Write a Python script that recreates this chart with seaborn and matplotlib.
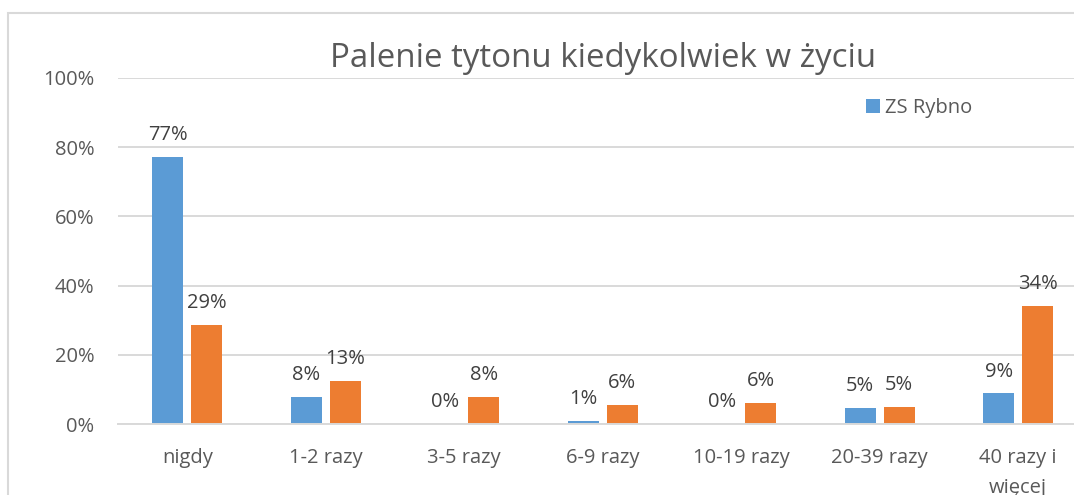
import matplotlib
matplotlib.use("Agg")
import matplotlib.pyplot as plt
import seaborn as sns
import pandas as pd
from matplotlib.patches import Rectangle, Patch

# Chart data
categories = ["nigdy", "1-2 razy", "3-5 razy", "6-9 razy", "10-19 razy",
              "20-39 razy", "40 razy i\nwięcej"]
zs_rybno = [77.1, 7.9, 0.0, 0.9, 0.0, 4.8, 8.9]
ogolem = [28.6, 12.6, 8.0, 5.6, 6.1, 5.1, 34.1]
series_names = ["ZS Rybno", "Ogółem"]
y_ticks = [0, 20, 40, 60, 80, 100]
title = "Palenie tytonu kiedykolwiek w życiu"

BLUE = "#5B9BD5"
ORANGE = "#ED7D31"
GRID = "#D9D9D9"
TEXT = "#595959"
LABEL = "#404040"
FS = 14.5

sns.set_theme(style="white")
plt.rcParams["font.family"] = ["Open Sans", "DejaVu Sans"]

df = pd.DataFrame({
    "kategoria": categories * 2,
    "seria": [series_names[0]] * len(categories) + [series_names[1]] * len(categories),
    "wartosc": zs_rybno + ogolem,
})

W, H = 1074, 495
fig = plt.figure(figsize=(W / 100, H / 100), dpi=100)
fig.patch.set_facecolor("white")

# plot area (extends a little past the right edge of the canvas)
ax = fig.add_axes([118 / W, (H - 424.3) / H, 969.5 / W, 346.5 / H])

sns.barplot(data=df, x="kategoria", y="wartosc", hue="seria",
            order=categories, hue_order=series_names,
            palette=[BLUE, ORANGE], saturation=1, width=0.563, gap=0.205,
            errorbar=None, legend=False, linewidth=0, ax=ax)

ax.set_ylim(0, 100)
ax.set_xlim(-0.5, len(categories) - 0.5)
ax.set_yticks(y_ticks)
ax.set_yticklabels([f"{t}%" for t in y_ticks])
ax.set_xlabel("")
ax.set_ylabel("")

ax.yaxis.grid(True, color=GRID, linewidth=1.4)
ax.set_axisbelow(True)
for side in ["top", "right", "left"]:
    ax.spines[side].set_visible(False)
ax.spines["bottom"].set_color(GRID)
ax.spines["bottom"].set_linewidth(1.4)

ax.tick_params(axis="x", length=0, pad=17, labelsize=FS, labelcolor=TEXT)
ax.tick_params(axis="y", length=0, pad=17, labelsize=FS, labelcolor=TEXT)
for lbl in ax.get_xticklabels():
    lbl.set_linespacing(1.7)

# value labels above each bar
for container in ax.containers:
    ax.bar_label(container, fmt=lambda v: f"{v:.0f}%", padding=8.5,
                 fontsize=FS, color=LABEL)

# title
fig.text(603 / W, (H - 66.7) / H, title, ha="center", va="baseline",
         fontsize=23.8, color=TEXT)

# legend (first series)
handles = [Patch(facecolor=BLUE, edgecolor="none")]
ax.legend(handles=handles, labels=[series_names[0]], loc="center left",
          bbox_to_anchor=(866 / W, (H - 108) / H), bbox_transform=fig.transFigure,
          frameon=False, fontsize=FS, handlelength=0.7, handleheight=0.7,
          handletextpad=0.25, borderpad=0, borderaxespad=0, labelcolor=TEXT)

# chart frame
fig.add_artist(Rectangle((8.3 / W, -0.2), 2.0, (H - 12.7) / H + 0.2,
                         transform=fig.transFigure, fill=False,
                         edgecolor=GRID, linewidth=1.5, clip_on=False))

fig.savefig("out.png", dpi=100)
